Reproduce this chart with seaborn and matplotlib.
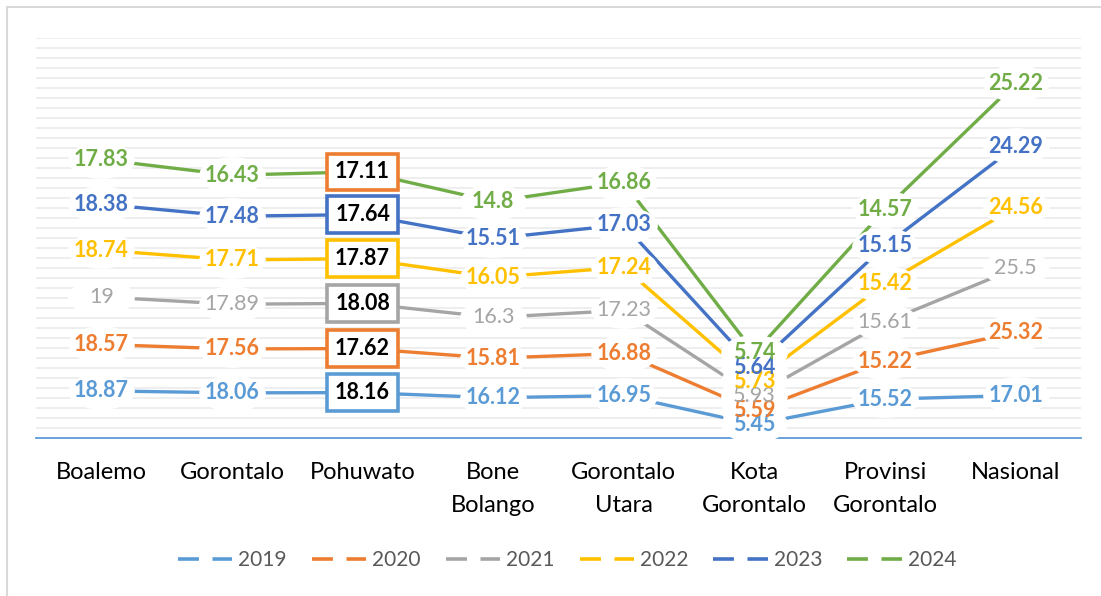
import numpy as np
import pandas as pd
import matplotlib
matplotlib.use("Agg")
import matplotlib.pyplot as plt
import seaborn as sns
from matplotlib.lines import Line2D
from matplotlib.patches import Rectangle
from matplotlib.path import Path
from matplotlib.transforms import Affine2D

# --- DATA ---
categories = ["Boalemo", "Gorontalo", "Pohuwato", "Bone\nBolango", "Gorontalo\nUtara",
              "Kota\nGorontalo", "Provinsi\nGorontalo", "Nasional"]
years = ["2019", "2020", "2021", "2022", "2023", "2024"]
v2019 = [18.87, 18.06, 18.16, 16.12, 16.95, 5.45, 15.52, 17.01]
v2020 = [18.57, 17.56, 17.62, 15.81, 16.88, 5.59, 15.22, 25.32]
v2021 = [19, 17.89, 18.08, 16.3, 17.23, 5.93, 15.61, 25.5]
v2022 = [18.74, 17.71, 17.87, 16.05, 17.24, 5.73, 15.42, 24.56]
v2023 = [18.38, 17.48, 17.64, 15.51, 17.03, 5.64, 15.15, 24.29]
v2024 = [17.83, 16.43, 17.11, 14.8, 16.86, 5.74, 14.57, 25.22]
series = [v2019, v2020, v2021, v2022, v2023, v2024]

colors = ["#5B9BD5", "#ED7D31", "#A5A5A5", "#FFC000", "#4472C4", "#70AD47"]
# box border colours used for the highlighted Pohuwato labels (bottom -> top)
box_colors = ["#5B9BD5", "#ED7D31", "#A5A5A5", "#FFC000", "#4472C4", "#ED7D31"]
highlight = 2  # Pohuwato

sns.set_theme(style="white")
plt.rcParams['font.family'] = ['Lato', 'DejaVu Sans']

# stacked line chart: cumulative values
vals = np.array(series)
cum = np.cumsum(vals, axis=0)
rows = []
for yi, yr in enumerate(years):
    for ci in range(len(categories)):
        rows.append({"x": ci, "year": yr, "cum": cum[yi, ci], "val": vals[yi, ci]})
df = pd.DataFrame(rows)

fig = plt.figure(figsize=(11.01, 5.96), dpi=100)
ax = fig.add_axes([36 / 1101, 1 - 438 / 596, 1045 / 1101, 400 / 596])

for y in np.arange(4, 161, 4):
    ax.axhline(y, color="#EDEDED", lw=1.3, zorder=0)

sns.lineplot(data=df, x="x", y="cum", hue="year", palette=colors, lw=2.4,
             legend=False, ax=ax, zorder=2)

# white elliptical blobs behind the data labels
blob = Path.unit_circle().transformed(Affine2D().scale(1.0, 0.55))
others = df[df["x"] != highlight]
ax.scatter(others["x"], others["cum"], s=48 ** 2, marker=blob, color="white",
           linewidths=0, zorder=4)

for yi, yr in enumerate(years):
    for ci in range(len(categories)):
        if ci == highlight:
            continue
        ax.text(ci, cum[yi, ci], f"{vals[yi, ci]:g}", ha="center", va="center",
                fontsize=15.5, color=colors[yi],
                fontweight="normal" if yr == "2021" else "bold", zorder=6 + yi)

for yi in range(len(years)):
    ax.text(highlight, cum[yi, highlight], f"{vals[yi, highlight]:.2f}",
            ha="center", va="center", fontsize=15.5, color="black", fontweight="bold",
            bbox=dict(boxstyle="square,pad=0.36", fc="white", ec=box_colors[yi], lw=2.6),
            zorder=14)

ax.set_xlim(-0.5, 7.5)
ax.set_ylim(0, 160)
ax.set_yticks([])
ax.set_xticks(range(len(categories)))
ax.set_xticklabels(categories, fontsize=17, color="black", linespacing=1.75)
ax.tick_params(axis="x", length=0, pad=17)
ax.set_xlabel("")
ax.set_ylabel("")
for s in ["top", "right", "left"]:
    ax.spines[s].set_visible(False)
ax.spines["bottom"].set_color("#5B9BD5")
ax.spines["bottom"].set_linewidth(1.3)
ax.spines["bottom"].set_zorder(3)

handles = [Line2D([0], [0], color=c, lw=2.6, dashes=(5.8, 3.75)) for c in colors]
fig.legend(handles, years, loc="center", bbox_to_anchor=(0.515, 1 - 560 / 596),
           ncol=6, frameon=False, fontsize=15, labelcolor="#595959",
           handlelength=2.6, handletextpad=0.3, columnspacing=1.2)

fig.patches.append(Rectangle((7 / 1101, -0.1), 1.2, 1 - 7 / 596 + 0.1,
                             transform=fig.transFigure, fill=False,
                             ec="#D9D9D9", lw=1.5))

fig.savefig("out.png", dpi=100)
